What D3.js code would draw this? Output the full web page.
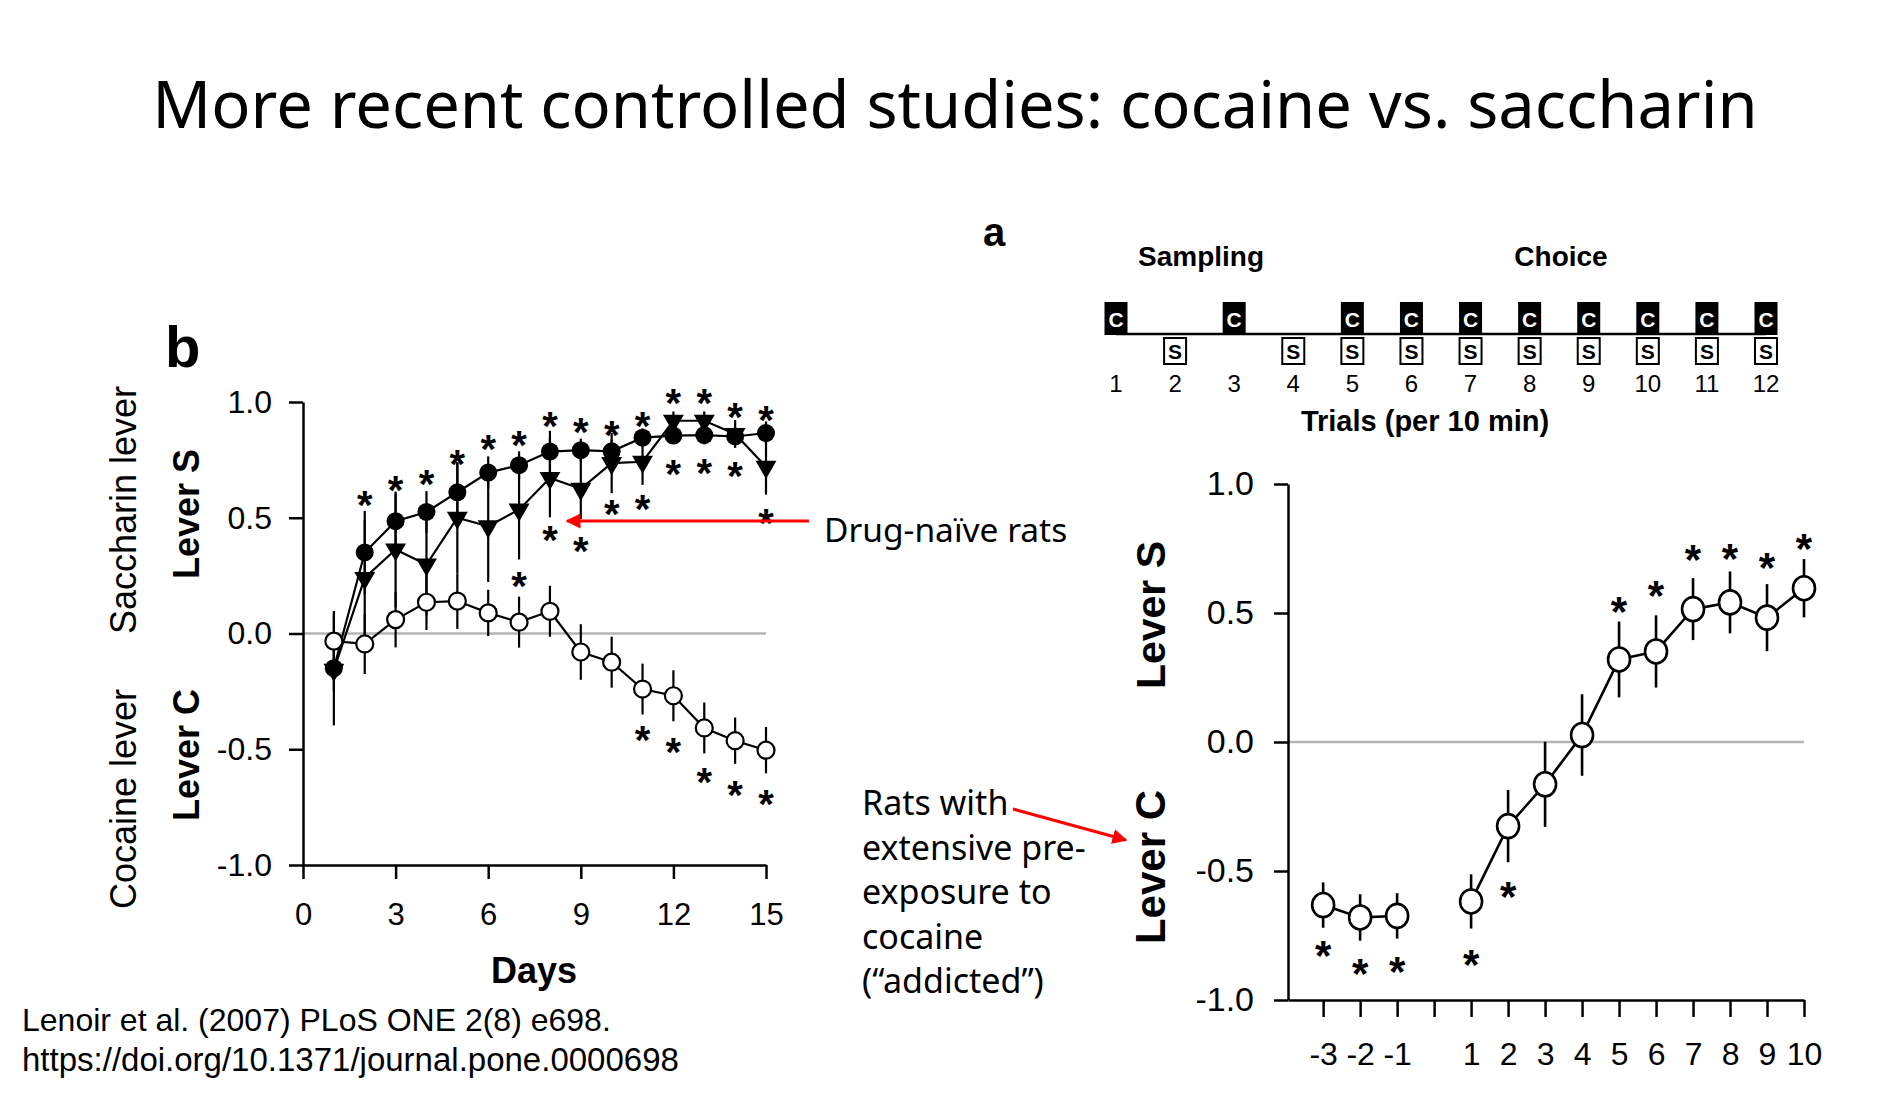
<!DOCTYPE html>
<html>
<head>
<meta charset="utf-8">
<script src="https://cdn.jsdelivr.net/npm/d3@7"></script>
<style>
  body { margin: 0; background: #fff; }
  svg { display: block; }
</style>
</head>
<body>
<svg></svg>
<script>
// ---- panel b : days 1-15 ----
let days = [1, 2, 3, 4, 5, 6, 7, 8, 9, 10, 11, 12, 13, 14, 15];
let naiveCircle = [-0.15, 0.35, 0.485, 0.525, 0.61, 0.695, 0.727, 0.786, 0.792, 0.787, 0.846, 0.855, 0.857, 0.851, 0.866];
let naiveCircleErr = [0.1, 0.18, 0.12, 0.09, 0.13, 0.07, 0.06, 0.09, 0.05, 0.05, 0.04, 0.03, 0.04, 0.04, 0.05];
let naiveTriangle = [-0.157, 0.24, 0.363, 0.298, 0.5, 0.463, 0.535, 0.672, 0.625, 0.736, 0.742, 0.919, 0.919, 0.862, 0.72];
let naiveTriangleErr = [0.24, 0.25, 0.25, 0.22, 0.24, 0.24, 0.215, 0.17, 0.13, 0.13, 0.1, 0.04, 0.04, 0.06, 0.12];
let openCircle = [-0.033, -0.045, 0.06, 0.135, 0.14, 0.089, 0.049, 0.096, -0.08, -0.124, -0.24, -0.269, -0.408, -0.463, -0.504];
let openCircleErr = [0.13, 0.13, 0.12, 0.12, 0.12, 0.1, 0.11, 0.11, 0.12, 0.11, 0.11, 0.11, 0.11, 0.1, 0.1];
let starsTop = [[2, 0.593], [3, 0.658], [4, 0.686], [5, 0.773], [6, 0.835], [7, 0.852], [8, 0.938], [9, 0.908],
                [10, 0.896], [11, 0.937], [12, 1.036], [13, 1.036], [14, 0.974], [15, 0.962]];
let starsMid = [[7, 0.247], [8, 0.442], [9, 0.394], [10, 0.555], [11, 0.577], [12, 0.728], [13, 0.735], [14, 0.72], [15, 0.519]];
let starsLow = [[11, -0.422], [12, -0.473], [13, -0.602], [14, -0.66], [15, -0.695]];
let dayTicks = [0, 3, 6, 9, 12, 15];
let leverTicks = [-1, -0.5, 0, 0.5, 1];

// ---- panel a : choice trials ----
let trials = [-3, -2, -1, 1, 2, 3, 4, 5, 6, 7, 8, 9, 10];
let addicted = [-0.632, -0.68, -0.674, -0.618, -0.326, -0.164, 0.027, 0.32, 0.351, 0.515, 0.541, 0.482, 0.596];
let addictedErr = [0.088, 0.09, 0.088, 0.105, 0.14, 0.165, 0.158, 0.147, 0.14, 0.12, 0.12, 0.13, 0.113];
let starsA = [[-3, -0.79], [-2, -0.861], [-1, -0.851], [1, -0.826], [2, -0.561], [5, 0.544], [6, 0.605],
              [7, 0.744], [8, 0.748], [9, 0.716], [10, 0.79]];
let trialTicks = d3.range(-3, 11);

// session schedule
let scheduleTrials = [1, 2, 3, 4, 5, 6, 7, 8, 9, 10, 11, 12];
let cocaineTrials = [1, 3, 5, 6, 7, 8, 9, 10, 11, 12];
let saccharinTrials = [2, 4, 5, 6, 7, 8, 9, 10, 11, 12];

let width = 1887;
let height = 1100;

const arial = "'Liberation Sans', Arial, sans-serif";
const slide = "'Noto Sans', 'Open Sans', sans-serif";

let svg = d3.select('svg')
  .attr('width', width)
  .attr('height', height);

let xB = d3.scaleLinear().domain([0, 15]).range([303, 766]);
let yB = d3.scaleLinear().domain([-1, 1]).range([865, 402]);
let xA = d3.scaleLinear().domain([-3.95, 10]).range([1288, 1804]);
let yA = d3.scaleLinear().domain([-1, 1]).range([1000, 484]);
let xTrial = d3.scaleLinear().domain([1, 12]).range([1116, 1766]);

const styleAxis = (g, size) => {
  g.attr('font-family', arial).attr('font-size', size);
  g.selectAll('path, line').attr('stroke', '#000').attr('stroke-width', 2.5);
  g.selectAll('text').attr('fill', '#000');
};

const addText = (txt, x, y, opts) => {
  let t = svg.append('text')
    .attr('x', x).attr('y', y)
    .attr('font-family', opts.family || arial)
    .attr('font-size', opts.size)
    .attr('font-weight', opts.weight || 'normal')
    .attr('text-anchor', opts.anchor || 'start')
    .attr('fill', opts.fill || '#000')
    .text(txt);
  if (opts.rotate) t.attr('transform', `rotate(-90, ${x}, ${y})`);
  return t;
};

const drawStars = (g, data, x, y, size) => {
  g.selectAll(null)
    .data(data)
    .enter()
    .append('text')
    .attr('x', d => x(d[0]))
    .attr('y', d => y(d[1]) + size * 0.58)
    .attr('text-anchor', 'middle')
    .attr('font-family', arial)
    .attr('font-weight', 'bold')
    .attr('font-size', size)
    .text('*');
};

const drawErr = (g, xs, vals, errs, x, y, w) => {
  g.selectAll(null)
    .data(vals)
    .enter()
    .append('line')
    .attr('x1', (d, i) => x(xs[i]))
    .attr('x2', (d, i) => x(xs[i]))
    .attr('y1', (d, i) => y(d + errs[i]))
    .attr('y2', (d, i) => y(d - errs[i]))
    .attr('stroke', '#000')
    .attr('stroke-width', w);
};

const drawTitle = () => {
  addText('More recent controlled studies: cocaine vs. saccharin', 955, 128,
    {family: slide, size: 65, anchor: 'middle'});
};

const drawPanelB = () => {
  let g = svg.append('g');

  g.append('line')
    .attr('x1', xB(0)).attr('x2', xB(15))
    .attr('y1', yB(0)).attr('y2', yB(0))
    .attr('stroke', '#b4b4b4').attr('stroke-width', 2.5);

  g.append('g')
    .attr('transform', `translate(${xB(0)}, 0)`)
    .call(d3.axisLeft(yB).tickValues(leverTicks).tickSize(14).tickPadding(17).tickSizeOuter(0)
      .tickFormat(d => d.toFixed(1)))
    .call(s => styleAxis(s, 32));

  g.append('g')
    .attr('transform', `translate(0, ${yB(-1)})`)
    .call(d3.axisBottom(xB).tickValues(dayTicks).tickSize(14).tickPadding(24).tickSizeOuter(0))
    .call(s => styleAxis(s, 31));

  drawErr(g, days, naiveCircle, naiveCircleErr, xB, yB, 2.2);
  drawErr(g, days, naiveTriangle, naiveTriangleErr, xB, yB, 2.2);
  drawErr(g, days, openCircle, openCircleErr, xB, yB, 2.2);

  let line = d3.line().x((d, i) => xB(days[i])).y(d => yB(d));
  [naiveCircle, naiveTriangle, openCircle].forEach(vals => {
    g.append('path')
      .attr('d', line(vals))
      .attr('fill', 'none')
      .attr('stroke', '#000')
      .attr('stroke-width', 2.2);
  });

  g.selectAll(null)
    .data(naiveCircle)
    .enter()
    .append('circle')
    .attr('cx', (d, i) => xB(days[i]))
    .attr('cy', d => yB(d))
    .attr('r', 9)
    .attr('fill', '#000');

  let tri = d3.symbol(d3.symbolTriangle, 190);
  g.selectAll(null)
    .data(naiveTriangle)
    .enter()
    .append('path')
    .attr('d', tri)
    .attr('transform', (d, i) => `translate(${xB(days[i])}, ${yB(d)}) rotate(180)`)
    .attr('fill', '#000');

  g.selectAll(null)
    .data(openCircle)
    .enter()
    .append('circle')
    .attr('cx', (d, i) => xB(days[i]))
    .attr('cy', d => yB(d))
    .attr('r', 8.5)
    .attr('fill', '#fff')
    .attr('stroke', '#000')
    .attr('stroke-width', 2.2);

  drawStars(g, starsTop, xB, yB, 40);
  drawStars(g, starsMid, xB, yB, 40);
  drawStars(g, starsLow, xB, yB, 40);

  addText('b', 165, 367, {size: 58, weight: 'bold'});
  addText('Days', 534, 983, {size: 36, weight: 'bold', anchor: 'middle'});
  addText('Lever S', 199, 514, {size: 36, weight: 'bold', anchor: 'middle', rotate: true});
  addText('Lever C', 199, 755, {size: 36, weight: 'bold', anchor: 'middle', rotate: true});
  addText('Saccharin lever', 136, 510, {size: 36, anchor: 'middle', rotate: true});
  addText('Cocaine lever', 136, 799, {size: 36, anchor: 'middle', rotate: true});
};

const drawSchedule = () => {
  let g = svg.append('g');
  g.append('line')
    .attr('x1', xTrial(1)).attr('x2', xTrial(12))
    .attr('y1', 334).attr('y2', 334)
    .attr('stroke', '#000').attr('stroke-width', 2.5);

  g.selectAll(null)
    .data(cocaineTrials)
    .enter()
    .append('rect')
    .attr('x', d => xTrial(d) - 11.5)
    .attr('y', 302)
    .attr('width', 23)
    .attr('height', 33)
    .attr('fill', '#000');
  g.selectAll(null)
    .data(cocaineTrials)
    .enter()
    .append('text')
    .attr('x', d => xTrial(d))
    .attr('y', 327)
    .attr('text-anchor', 'middle')
    .attr('font-family', arial)
    .attr('font-weight', 'bold')
    .attr('font-size', 21)
    .attr('fill', '#fff')
    .text('C');

  g.selectAll(null)
    .data(saccharinTrials)
    .enter()
    .append('rect')
    .attr('x', d => xTrial(d) - 11)
    .attr('y', 338)
    .attr('width', 22)
    .attr('height', 26)
    .attr('fill', '#fff')
    .attr('stroke', '#000')
    .attr('stroke-width', 2);
  g.selectAll(null)
    .data(saccharinTrials)
    .enter()
    .append('text')
    .attr('x', d => xTrial(d))
    .attr('y', 359)
    .attr('text-anchor', 'middle')
    .attr('font-family', arial)
    .attr('font-weight', 'bold')
    .attr('font-size', 21)
    .text('S');

  g.selectAll(null)
    .data(scheduleTrials)
    .enter()
    .append('text')
    .attr('x', d => xTrial(d))
    .attr('y', 392)
    .attr('text-anchor', 'middle')
    .attr('font-family', arial)
    .attr('font-size', 24)
    .text(d => d);

  addText('a', 983, 246, {size: 40, weight: 'bold'});
  addText('Sampling', 1201, 266, {size: 28, weight: 'bold', anchor: 'middle'});
  addText('Choice', 1561, 266, {size: 28, weight: 'bold', anchor: 'middle'});
  addText('Trials (per 10 min)', 1425, 431, {size: 29, weight: 'bold', anchor: 'middle'});
};

const drawPanelA = () => {
  let g = svg.append('g');

  g.append('line')
    .attr('x1', xA.range()[0]).attr('x2', xA(10))
    .attr('y1', yA(0)).attr('y2', yA(0))
    .attr('stroke', '#b4b4b4').attr('stroke-width', 2.5);

  g.append('g')
    .attr('transform', `translate(${xA.range()[0]}, 0)`)
    .call(d3.axisLeft(yA).tickValues(leverTicks).tickSize(14).tickPadding(20).tickSizeOuter(0)
      .tickFormat(d => d.toFixed(1)))
    .call(s => styleAxis(s, 34));

  g.append('g')
    .attr('transform', `translate(0, ${yA(-1)})`)
    .call(d3.axisBottom(xA).tickValues(trialTicks).tickSize(17).tickPadding(25).tickSizeOuter(0)
      .tickFormat(d => d === 0 ? '' : String(d)))
    .call(s => styleAxis(s, 32));

  drawErr(g, trials, addicted, addictedErr, xA, yA, 2.6);

  let pts = trials.map((t, i) => ({t: t, v: addicted[i]}));
  let line = d3.line().x(d => xA(d.t)).y(d => yA(d.v));
  [pts.filter(d => d.t < 0), pts.filter(d => d.t > 0)].forEach(seg => {
    g.append('path')
      .attr('d', line(seg))
      .attr('fill', 'none')
      .attr('stroke', '#000')
      .attr('stroke-width', 2.6);
  });

  g.selectAll(null)
    .data(pts)
    .enter()
    .append('ellipse')
    .attr('cx', d => xA(d.t))
    .attr('cy', d => yA(d.v))
    .attr('rx', 11)
    .attr('ry', 12)
    .attr('fill', '#fff')
    .attr('stroke', '#000')
    .attr('stroke-width', 2.6);

  drawStars(g, starsA, xA, yA, 42);

  addText('Lever S', 1165, 615, {size: 41, weight: 'bold', anchor: 'middle', rotate: true});
  addText('Lever C', 1165, 867, {size: 42, weight: 'bold', anchor: 'middle', rotate: true});
};

const drawNotes = () => {
  let defs = svg.append('defs');
  defs.append('marker')
    .attr('id', 'head')
    .attr('viewBox', '0 0 10 10')
    .attr('refX', 9).attr('refY', 5)
    .attr('markerWidth', 5).attr('markerHeight', 5)
    .attr('orient', 'auto')
    .append('path')
    .attr('d', 'M0,0 L10,5 L0,10 Z')
    .attr('fill', '#ff0000');

  svg.append('line')
    .attr('x1', 809).attr('y1', 521).attr('x2', 567).attr('y2', 521)
    .attr('stroke', '#ff0000').attr('stroke-width', 3)
    .attr('marker-end', 'url(#head)');
  svg.append('line')
    .attr('x1', 1013).attr('y1', 809).attr('x2', 1126).attr('y2', 840)
    .attr('stroke', '#ff0000').attr('stroke-width', 3)
    .attr('marker-end', 'url(#head)');

  addText('Drug-naïve rats', 824, 542, {family: slide, size: 33.5});
  let lines = ['Rats with', 'extensive pre-', 'exposure to', 'cocaine', '(“addicted”)'];
  lines.forEach((l, i) => addText(l, 862, 815 + i * 44.5, {family: slide, size: 34}));

  addText('Lenoir et al. (2007) PLoS ONE 2(8) e698.', 22, 1031, {size: 32});
  addText('https://doi.org/10.1371/journal.pone.0000698', 22, 1071, {size: 33});
};

drawTitle();
drawPanelB();
drawSchedule();
drawPanelA();
drawNotes();
</script>
</body>
</html>
